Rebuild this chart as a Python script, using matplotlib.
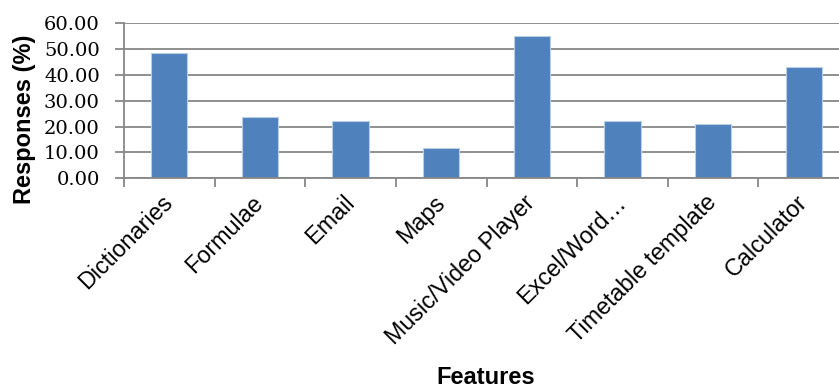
import matplotlib
matplotlib.use("Agg")
import matplotlib.pyplot as plt
import numpy as np
from matplotlib.ticker import FormatStrFormatter, FixedLocator

features = ["Dictionaries", "Formulae", "Email", "Maps", "Music/Video Player",
            "Excel/Word\u2026", "Timetable template", "Calculator"]
responses = [48.6, 23.6, 22.2, 11.7, 55.2, 22.2, 20.9, 43.2]
y_ticks = [0, 10, 20, 30, 40, 50, 60]

W, H = 839, 390
fig = plt.figure(figsize=(W / 100, H / 100), dpi=100)

# plot area in pixel terms (Excel-style category axis, 8 slots)
left_px, right_px, top_px, bottom_px = 124, 849, 23.3, 178.3
ax = fig.add_axes([left_px / W, 1 - bottom_px / H,
                   (right_px - left_px) / W, (bottom_px - top_px) / H])

grid_col = "#878787"
x = np.arange(len(features))
ax.bar(x, responses, width=0.4, color="#4F81BD", edgecolor="#B9CDE5",
       linewidth=0.8, zorder=3)

ax.set_xlim(-0.5, len(features) - 0.5)
ax.set_ylim(0, 60)
ax.yaxis.set_major_locator(FixedLocator(y_ticks))
ax.yaxis.set_major_formatter(FormatStrFormatter("%.2f"))
ax.yaxis.grid(True, color=grid_col, linewidth=1.3, zorder=0)
ax.set_axisbelow(True)

for side in ("top", "right"):
    ax.spines[side].set_visible(False)
for side in ("left", "bottom"):
    ax.spines[side].set_color(grid_col)
    ax.spines[side].set_linewidth(1.3)
    ax.spines[side].set_zorder(4)

# category labels on centres, tick marks on slot boundaries
ax.set_xticks(x)
ax.set_xticklabels(features, rotation=45, ha="right", va="center",
                   rotation_mode="anchor", fontsize=16.8,
                   family="Liberation Sans")
ax.tick_params(axis="x", which="major", length=0, pad=15)
ax.set_xticks(np.arange(len(features) + 1) - 0.5, minor=True)
ax.tick_params(axis="x", which="minor", length=6.5, width=1.3,
               color=grid_col, direction="out")

ax.tick_params(axis="y", length=6.5, width=1.3, color=grid_col, pad=11,
               labelsize=14)
for lab in ax.get_yticklabels():
    lab.set_family("DejaVu Serif")

fig.text(25 / W, 1 - 119 / H, "Responses (%)", rotation=90, ha="center",
         va="center", fontsize=17, fontweight="bold", family="Liberation Sans")
fig.text(485.5 / W, 1.5 / H, "Features", ha="center", va="bottom",
         fontsize=17, fontweight="bold", family="Liberation Sans")

fig.savefig("out.png", dpi=100)
